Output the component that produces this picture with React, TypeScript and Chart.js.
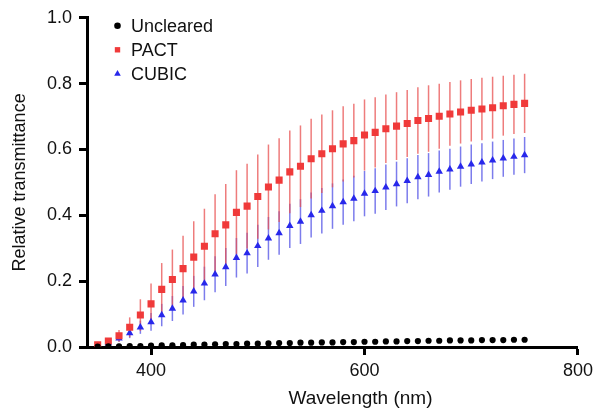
import React, { useEffect, useRef } from 'react';
import { Chart, registerables } from 'chart.js';
import { drawPoint } from 'chart.js/helpers';

Chart.register(...registerables);

const wavelengths = [350, 360, 370, 380, 390, 400, 410, 420, 430, 440, 450, 460, 470, 480, 490, 500, 510, 520, 530, 540, 550, 560, 570, 580, 590, 600, 610, 620, 630, 640, 650, 660, 670, 680, 690, 700, 710, 720, 730, 740, 750];

const uncleared = [0.001, 0.002, 0.002, 0.003, 0.003, 0.004, 0.005, 0.005, 0.006, 0.007, 0.007, 0.008, 0.009, 0.009, 0.010, 0.010, 0.011, 0.012, 0.012, 0.013, 0.013, 0.014, 0.014, 0.015, 0.015, 0.016, 0.016, 0.017, 0.017, 0.018, 0.018, 0.019, 0.019, 0.020, 0.020, 0.020, 0.021, 0.021, 0.021, 0.022, 0.022];

const pact = [0.007, 0.018, 0.034, 0.06, 0.097, 0.131, 0.175, 0.205, 0.238, 0.273, 0.306, 0.344, 0.371, 0.409, 0.428, 0.457, 0.486, 0.507, 0.532, 0.549, 0.572, 0.587, 0.602, 0.617, 0.627, 0.644, 0.652, 0.663, 0.671, 0.679, 0.688, 0.694, 0.701, 0.708, 0.714, 0.719, 0.723, 0.727, 0.733, 0.737, 0.740];

const pactErr = [0.003, 0.008, 0.018, 0.03, 0.048, 0.062, 0.08, 0.091, 0.10, 0.109, 0.114, 0.12, 0.124, 0.128, 0.129, 0.128, 0.129, 0.127, 0.126, 0.124, 0.121, 0.119, 0.117, 0.114, 0.112, 0.108, 0.107, 0.104, 0.103, 0.102, 0.101, 0.101, 0.099, 0.097, 0.096, 0.095, 0.095, 0.094, 0.091, 0.09, 0.09];

const cubic = [0.003, 0.012, 0.026, 0.042, 0.06, 0.076, 0.097, 0.117, 0.142, 0.169, 0.193, 0.221, 0.243, 0.271, 0.285, 0.307, 0.33, 0.346, 0.368, 0.381, 0.401, 0.414, 0.428, 0.44, 0.451, 0.466, 0.474, 0.485, 0.495, 0.505, 0.516, 0.523, 0.533, 0.54, 0.548, 0.555, 0.561, 0.567, 0.573, 0.578, 0.583];

const cubicErr = [0.002, 0.005, 0.01, 0.015, 0.02, 0.027, 0.034, 0.038, 0.043, 0.047, 0.051, 0.055, 0.058, 0.06, 0.062, 0.064, 0.065, 0.066, 0.067, 0.068, 0.068, 0.069, 0.069, 0.069, 0.069, 0.069, 0.069, 0.069, 0.068, 0.068, 0.067, 0.066, 0.064, 0.062, 0.061, 0.06, 0.058, 0.057, 0.056, 0.055, 0.055];

const xTicks = [400, 600, 800];
const yTicks = [0, 0.2, 0.4, 0.6, 0.8, 1.0];

const seriesLabels = ['Uncleared', 'PACT', 'CUBIC'];
const xTitle = 'Wavelength (nm)';
const yTitle = 'Relative transmittance';

const FONT = "'Liberation Sans', Arial, Helvetica, sans-serif";
const RED = 'rgb(240,58,58)';
const BLUE = 'rgb(40,40,235)';
const BLACK = '#000';

export default function App() {
  const ref = useRef<HTMLCanvasElement | null>(null);

  useEffect(() => {
    const canvas = ref.current;
    if (!canvas) return;

    const toPts = (ys: number[]) => wavelengths.map((x, i) => ({ x, y: ys[i] }));

    const errorBars = {
      id: 'errorBars',
      beforeDatasetsDraw(chart: any) {
        const { ctx } = chart;
        const xs = chart.scales.x;
        const ys = chart.scales.y;
        const groups = [
          { means: cubic, errs: cubicErr, color: 'rgba(80,80,230,0.75)' },
          { means: pact, errs: pactErr, color: 'rgba(232,80,80,0.75)' },
        ];
        ctx.save();
        ctx.lineWidth = 1.5;
        for (const g of groups) {
          ctx.strokeStyle = g.color;
          wavelengths.forEach((w, i) => {
            const px = xs.getPixelForValue(w);
            const y1 = ys.getPixelForValue(g.means[i] + g.errs[i]);
            const y2 = ys.getPixelForValue(g.means[i] - g.errs[i]);
            ctx.beginPath();
            ctx.moveTo(px, y1);
            ctx.lineTo(px, y2);
            ctx.stroke();
          });
        }
        ctx.restore();
      },
    };

    const customText = {
      id: 'customText',
      afterDraw(chart: any) {
        const { ctx, chartArea } = chart;
        ctx.save();
        // legend
        const styles = ['circle', 'rect', 'triangle'];
        const colors = [BLACK, RED, BLUE];
        const radii = [3.3, 3.8, 3.8];
        ctx.font = `18px ${FONT}`;
        ctx.textBaseline = 'middle';
        ctx.textAlign = 'left';
        seriesLabels.forEach((label, i) => {
          const cy = chartArea.top + 8 + i * 24;
          ctx.fillStyle = colors[i];
          ctx.strokeStyle = colors[i];
          drawPoint(ctx, { pointStyle: styles[i], radius: radii[i], borderWidth: 0, rotation: 0 } as any, chartArea.left + 30.5, cy);
          ctx.fillStyle = '#111';
          ctx.fillText(label, chartArea.left + 44, cy + 1);
        });
        // x title
        ctx.font = `19px ${FONT}`;
        ctx.textAlign = 'center';
        ctx.textBaseline = 'alphabetic';
        ctx.fillStyle = '#111';
        ctx.fillText(xTitle, (chartArea.left + chartArea.right) / 2 + 28, chart.height - 8);
        ctx.restore();
      },
    };

    const chart = new Chart(canvas, {
      type: 'scatter',
      data: {
        datasets: [
          {
            label: seriesLabels[0],
            data: toPts(uncleared),
            pointStyle: 'circle',
            pointRadius: 3.1,
            backgroundColor: BLACK,
            borderColor: BLACK,
            borderWidth: 0,
          },
          {
            label: seriesLabels[1],
            data: toPts(pact),
            pointStyle: 'rect',
            pointRadius: 5,
            backgroundColor: RED,
            borderColor: RED,
            borderWidth: 0,
          },
          {
            label: seriesLabels[2],
            data: toPts(cubic),
            pointStyle: 'triangle',
            pointRadius: 4.3,
            backgroundColor: BLUE,
            borderColor: BLUE,
            borderWidth: 0,
          },
        ],
      },
      options: {
        responsive: false,
        animation: false,
        events: [],
        layout: { padding: { top: 16, right: 17, left: 0, bottom: 0 } },
        plugins: {
          legend: { display: false },
          tooltip: { enabled: false },
        },
        scales: {
          x: {
            type: 'linear',
            min: 340,
            max: 800,
            afterBuildTicks: (s: any) => {
              s.ticks = xTicks.map((v) => ({ value: v }));
            },
            afterFit: (s: any) => {
              s.height = 65;
            },
            grid: { drawOnChartArea: false, drawTicks: true, tickLength: 8, tickWidth: 3, tickColor: BLACK },
            border: { display: true, color: BLACK, width: 3 },
            ticks: {
              font: { size: 18, family: FONT },
              color: '#111',
              padding: 5,
              maxRotation: 0,
              callback: (v: any) => String(v),
            },
            title: { display: false },
          },
          y: {
            type: 'linear',
            min: 0,
            max: 1,
            afterBuildTicks: (s: any) => {
              s.ticks = yTicks.map((v) => ({ value: v }));
            },
            afterFit: (s: any) => {
              s.width = 87;
            },
            grid: { drawOnChartArea: false, drawTicks: true, tickLength: 8, tickWidth: 3, tickColor: BLACK },
            border: { display: true, color: BLACK, width: 3 },
            ticks: {
              font: { size: 18, family: FONT },
              color: '#111',
              padding: 7,
              callback: (v: any) => Number(v).toFixed(1),
            },
            title: {
              display: true,
              text: yTitle,
              font: { size: 18, family: FONT },
              color: '#111',
              padding: { top: 9, bottom: 0 },
            },
          },
        },
      },
      plugins: [errorBars, customText],
    });

    return () => {
      chart.destroy();
    };
  }, []);

  return (
    <div style={{ position: 'fixed', left: 0, top: 0, width: 598, height: 412, background: '#fff' }}>
      <canvas ref={ref} width={598} height={412} style={{ display: 'block', width: 598, height: 412 }} />
    </div>
  );
}
